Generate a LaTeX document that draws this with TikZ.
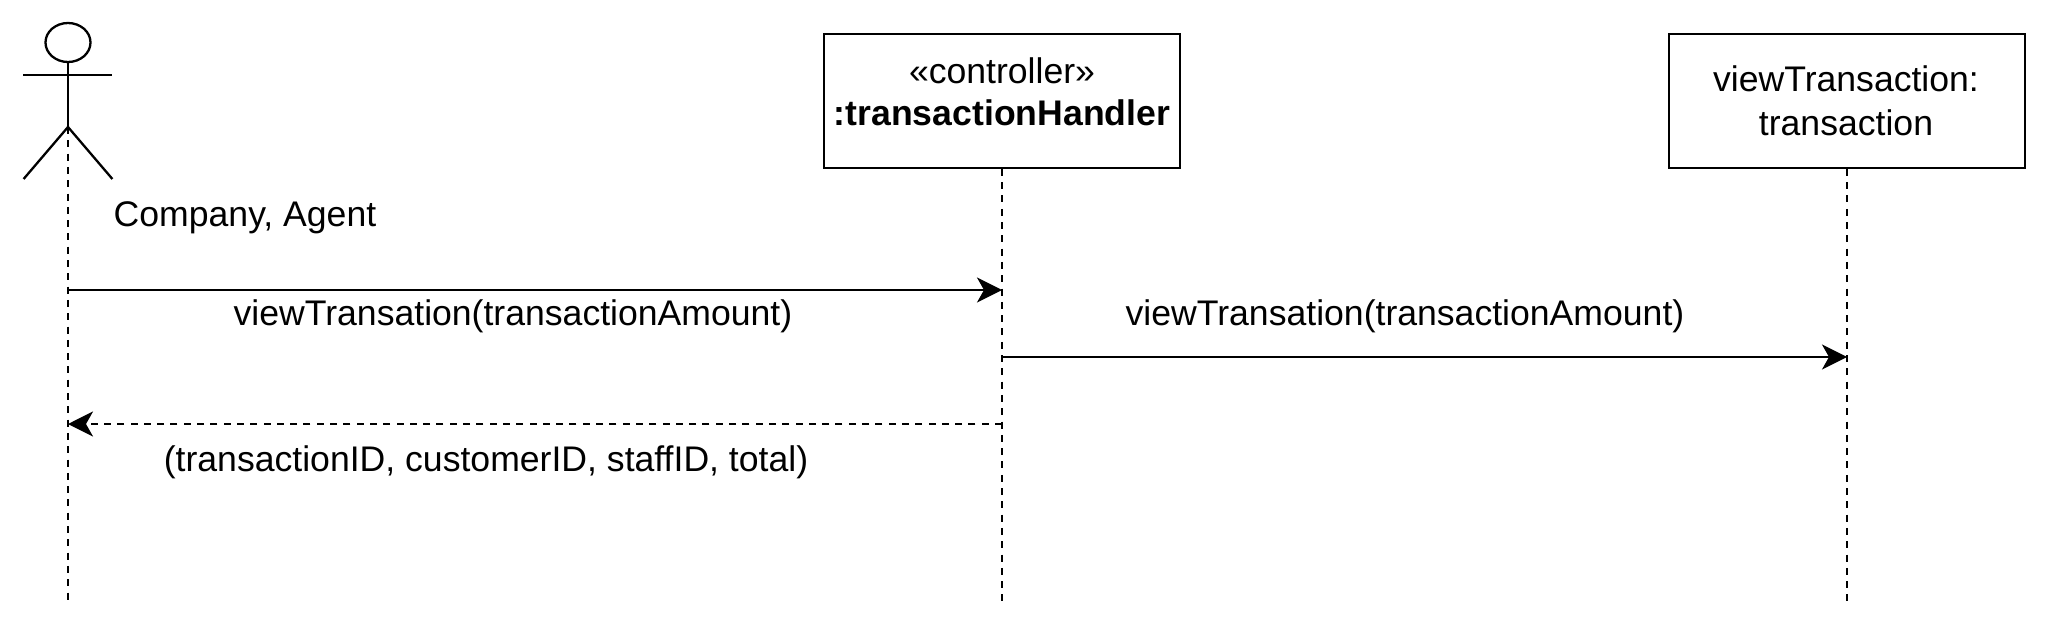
\documentclass[tikz,border=0pt]{standalone}
\usepackage{fontspec}
\setmainfont{Liberation Sans}
\usetikzlibrary{arrows.meta,shapes.geometric}
\tikzset{
  x=1pt,y=-1pt,
  every node/.style={font=\fontsize{35.6}{40}\selectfont},
  stroke/.style={draw=black,line width=2.3pt},
  objbox/.style={stroke,rectangle,minimum width=356pt,minimum height=133.4pt,inner sep=0pt,fill=white},
  lifeline/.style={stroke,dash pattern=on 7pt off 6.3pt},
  lbl/.style={anchor=base,inner sep=0pt},
  msg/.style={stroke,-{Stealth[length=25pt,width=25pt,inset=7pt]}},
  retmsg/.style={msg,dash pattern=on 7pt off 6.3pt},
  headshape/.style={stroke,ellipse,minimum width=45pt,minimum height=39pt,inner sep=0pt},
  limb/.style={stroke,line join=round}
}
\begin{document}
\begin{tikzpicture}
\useasboundingbox (0,0) rectangle (2048,627);
% objects
\node[objbox] (ctrl) at (1002,101) {};
\node[objbox] (view) at (1847,101) {};
\node[lbl] (ctrlA) at (1002,83) {«controller»};
\node[lbl,font=\fontsize{35.6}{40}\selectfont\bfseries] (ctrlB) at (1002,125) {:transactionHandler};
\node[lbl] (viewA) at (1846,91) {viewTransaction:};
\node[lbl] (viewB) at (1846,135.2) {transaction};
% actor
\node[headshape] (head) at (68,42.5) {};
\coordinate (hip) at (68,127);
\coordinate (armL) at (23.3,75);
\coordinate (armR) at (112.3,75);
\coordinate (legL) at (23.6,179);
\coordinate (legR) at (112.4,179);
\draw[limb] (head.south) -- (hip);
\draw[limb] (armL) -- (armR);
\draw[limb] (legL) -- (hip) -- (legR);
\node[lbl] (actorname) at (245,226.9) {Company, Agent};
% lifelines
\coordinate (endA) at (68,601);
\coordinate (endC) at (1002,601);
\coordinate (endV) at (1847,601);
\draw[lifeline] (hip) -- (endA);
\draw[lifeline] (ctrl.south) -- (endC);
\draw[lifeline] (view.south) -- (endV);
% messages
\coordinate (m1a) at (68,290);
\coordinate (m1c) at (1002,290);
\coordinate (m2c) at (1002,357);
\coordinate (m2v) at (1847,357);
\coordinate (m3c) at (1002,424);
\coordinate (m3a) at (68,424);
\draw[msg] (m1a) -- (m1c);
\draw[msg] (m2c) -- (m2v);
\draw[retmsg] (m3c) -- (m3a);
\node[lbl] (l1) at (513,325) {viewTransation(transactionAmount)};
\node[lbl] (l2) at (1405,325) {viewTransation(transactionAmount)};
\node[lbl] (l3) at (486,471.7) {(transactionID, customerID, staffID, total)};
\end{tikzpicture}
\end{document}
